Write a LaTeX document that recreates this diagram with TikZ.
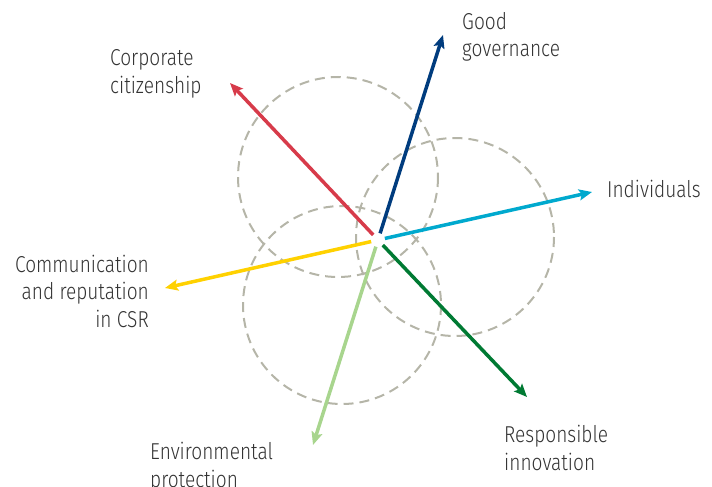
\documentclass[tikz,border=0pt]{standalone}
\usepackage{fontspec}
\setmainfont{Fira Sans}[UprightFont={* Light}, FakeStretch=0.83]
\usepackage{tikz}
\usetikzlibrary{arrows.meta}
\definecolor{ringgray}{HTML}{B5B5A8}
\definecolor{txtgray}{HTML}{333333}
\definecolor{citred}{HTML}{D73B4A}
\definecolor{govblue}{HTML}{003C7E}
\definecolor{indcyan}{HTML}{00A9CE}
\definecolor{comyellow}{HTML}{FFD100}
\definecolor{envgreen}{HTML}{A8D58E}
\definecolor{inngreen}{HTML}{007A33}

\begin{document}
\begin{tikzpicture} [x=1pt, y=-1pt,
  ring/.style={draw=ringgray, line width=2pt, dash pattern=on 10pt off 6pt},
  spoke/.style={line width=3.5pt, -{Stealth[length=13pt, width=11pt, inset=2.5pt]}, shorten <=7pt},
  lbl/.style={font=\fontsize{23}{27.5}\selectfont, text=txtgray, inner sep=0pt}]
\useasboundingbox (0,0) rectangle (712,487);
%\draw [help lines, step=50] (0,0) grid (712,487);
%circles
\draw [ring] (338,177) circle [radius=100];
\draw [ring] (455,237) circle [radius=99];
\draw [ring] (342,305) circle [radius=99];

%centre and tips
\coordinate (c) at (378,240);
\coordinate (citTip) at (230,83);
\coordinate (govTip) at (443,35);
\coordinate (indTip) at (592,192);
\coordinate (comTip) at (165,288);
\coordinate (envTip) at (313,445);
\coordinate (innTip) at (527,397);

\draw [spoke, citred] (c) -- (citTip);
\draw [spoke, govblue] (c) -- (govTip);
\draw [spoke, indcyan] (c) -- (indTip);
\draw [spoke, comyellow] (c) -- (comTip);
\draw [spoke, envgreen] (c) -- (envTip);
\draw [spoke, inngreen] (c) -- (innTip);

%labels (base = last line)
\node [lbl, anchor=base west, align=left] (cit) at (110,93) {Corporate\\citizenship};
\node [lbl, anchor=base west, align=left] (gov) at (462,57) {Good\\governance};
\node [lbl, anchor=base west] (ind) at (607,197) {Individuals};
\node [lbl, anchor=base east, align=right] (com) at (149,327) {Communication\\and reputation\\in CSR};
\node [lbl, anchor=base west, align=left] (env) at (150,487) {Environmental\\protection};
\node [lbl, anchor=base west, align=left] (inn) at (504,470) {Responsible\\innovation};
\end{tikzpicture}
\end{document}
